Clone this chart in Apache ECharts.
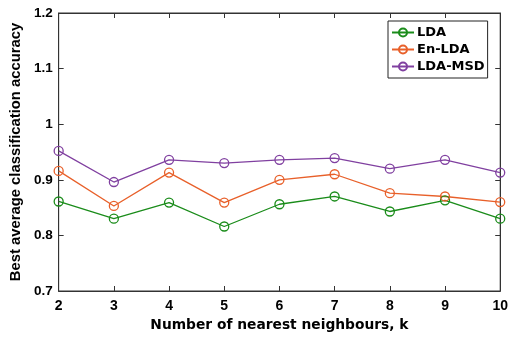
<!DOCTYPE html>
<html>
<head>
<meta charset="utf-8">
<script src="https://cdn.jsdelivr.net/npm/echarts@6/dist/echarts.min.js"></script>
<style>
  html, body { margin: 0; padding: 0; background: #fff; }
  #chart { width: 511px; height: 337px; }
</style>
</head>
<body>
<div id="chart"></div>
<script>
// number of nearest neighbours
const kValues = [2, 3, 4, 5, 6, 7, 8, 9, 10];

// best average classification accuracy
const ldaAcc = [0.861, 0.830, 0.859, 0.816, 0.856, 0.870, 0.843, 0.863, 0.830];
const enLdaAcc = [0.916, 0.853, 0.913, 0.859, 0.900, 0.910, 0.876, 0.870, 0.860];
const ldaMsdAcc = [0.952, 0.896, 0.936, 0.930, 0.936, 0.939, 0.920, 0.936, 0.913];

const font = 'Liberation Sans, Arial, Helvetica, sans-serif';
const wideFont = 'DejaVu Sans, Liberation Sans, sans-serif';
const axisColor = '#333';

function makeSeries(name, values, color) {
  return {
    name: name,
    type: 'line',
    xAxisIndex: 0,
    yAxisIndex: 0,
    data: kValues.map((k, i) => [k, values[i]]),
    symbol: 'circle',
    symbolSize: 9,
    showSymbol: true,
    lineStyle: { color: color, width: 1.3 },
    itemStyle: { color: 'rgba(255,255,255,0)', borderColor: color, borderWidth: 1.3 },
    emphasis: { disabled: true },
    animation: false,
  };
}

const chart = echarts.init(document.getElementById('chart'));
chart.setOption({
  animation: false,
  textStyle: { fontFamily: font },
  grid: {
    left: 54,
    right: 9,
    top: 13,
    bottom: 44,
    show: true,
    borderColor: axisColor,
    borderWidth: 1,
  },
  legend: {
    orient: 'vertical',
    left: 388,
    top: 21,
    padding: [5, 3, 5, 3],
    itemGap: 4,
    itemWidth: 22,
    itemHeight: 10,
    borderColor: '#222',
    borderWidth: 1,
    backgroundColor: '#fff',
    textStyle: { fontFamily: wideFont, fontWeight: 'bold', fontSize: 13, color: '#000', padding: [0, 0, 0, -2] },
    data: ['LDA', 'En-LDA', 'LDA-MSD'],
  },
  xAxis: [
    {
      type: 'value',
      min: 2,
      max: 10,
      interval: 1,
      name: 'Number of nearest neighbours, k',
      nameLocation: 'middle',
      nameGap: 27,
      nameTextStyle: { fontFamily: wideFont, fontWeight: 'bold', fontSize: 13.8, color: '#000' },
      axisLine: { lineStyle: { color: axisColor } },
      axisTick: { inside: true, length: 5, lineStyle: { color: axisColor } },
      axisLabel: { fontFamily: font, fontWeight: 'bold', fontSize: 14, color: '#000', margin: 8 },
      splitLine: { show: false },
    },
    {
      type: 'value',
      position: 'top',
      min: 2,
      max: 10,
      interval: 1,
      axisLine: { lineStyle: { color: axisColor } },
      axisTick: { inside: true, length: 5, lineStyle: { color: axisColor } },
      axisLabel: { show: false },
      splitLine: { show: false },
    },
  ],
  yAxis: [
    {
      type: 'value',
      min: 0.7,
      max: 1.2,
      interval: 0.1,
      name: 'Best average classification accuracy',
      nameLocation: 'middle',
      nameGap: 34,
      nameTextStyle: { fontFamily: font, fontWeight: 'bold', fontSize: 14.8, color: '#000' },
      axisLine: { show: true, lineStyle: { color: axisColor } },
      axisTick: { show: true, inside: true, length: 5, lineStyle: { color: axisColor } },
      axisLabel: {
        fontFamily: font,
        fontWeight: 'bold',
        fontSize: 13.5,
        color: '#000',
        margin: 6,
        formatter: v => String(Math.round(v * 10) / 10),
      },
      splitLine: { show: false },
    },
    {
      type: 'value',
      position: 'right',
      min: 0.7,
      max: 1.2,
      interval: 0.1,
      axisLine: { show: true, lineStyle: { color: axisColor } },
      axisTick: { show: true, inside: true, length: 5, lineStyle: { color: axisColor } },
      axisLabel: { show: false },
      splitLine: { show: false },
    },
  ],
  series: [
    makeSeries('LDA', ldaAcc, '#1a8c1a'),
    makeSeries('En-LDA', enLdaAcc, '#e8602a'),
    makeSeries('LDA-MSD', ldaMsdAcc, '#8040a0'),
  ],
});
</script>
</body>
</html>
